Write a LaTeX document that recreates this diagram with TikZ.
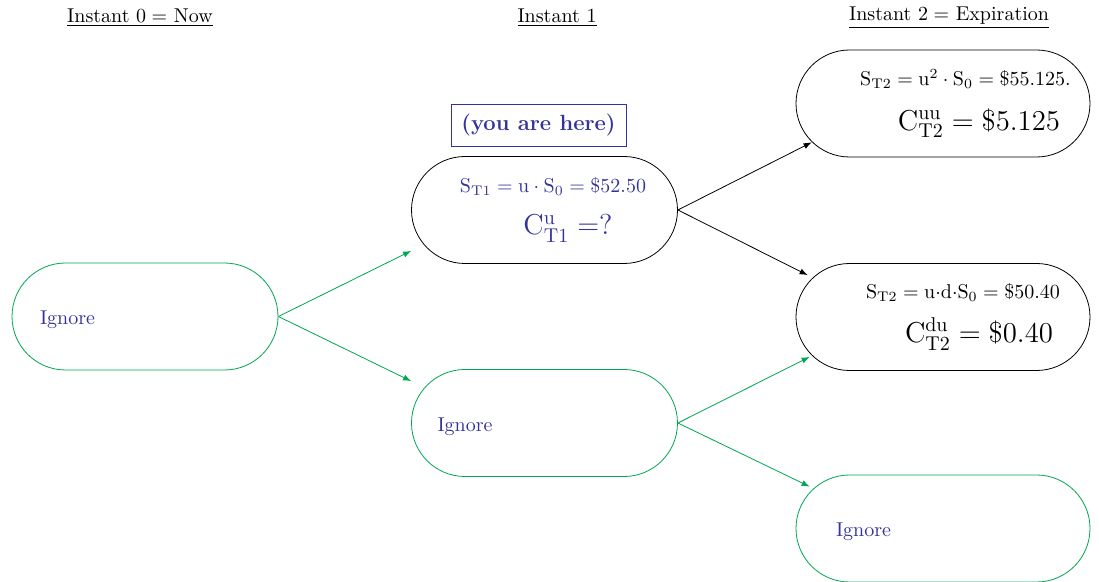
\documentclass[tikz,border=0pt]{standalone}
\usepackage{amsmath}
\usepackage{xcolor}
\usepackage{tikz}
\usetikzlibrary{shapes.geometric, arrows}

\definecolor{nodegreen}{RGB}{0,166,81}
\definecolor{textblue}{RGB}{51,51,153}

\tikzset{
    stadium/.style={draw, rectangle, rounded corners=26.75pt, minimum height=53.5pt, minimum width=133pt, inner sep=0pt},
    widestadium/.style={stadium, minimum width=147pt},
    greenbox/.style={draw=nodegreen, text=textblue, align=left},
    header/.style={inner sep=1pt},
    uparrow/.style={-latex, black},
    downarrow/.style={-latex, nodegreen}
}
\newcommand{\ignoretext}{\raisebox{-4.25pt}[0pt][0pt]{Ignore}}

\begin{document}
\begin{tikzpicture}[x=0.5pt, y=-0.5pt]
        \useasboundingbox (0,0) rectangle (1099,582);

        \node[header] (h0) at (140,18) {\underline{Instant $0=$ Now}};
        \node[header] (h1) at (557,18) {\underline{Instant 1}};
        \node[header] (h2) at (949,18) {\underline{Instant $2=$ Expiration}};

        \node[stadium, greenbox, text width=105pt] (A) at (145,316.5) {\ignoretext};

        \node[stadium, text=textblue, align=center] (B) at (544.5,210)
            {\hspace*{8.5pt}$\mathrm{S_{T1}}=\mathrm{u}\cdot\mathrm{S_0}=\$52.50$\\[9pt]
             \hspace*{23.5pt}{\Large$\mathrm{C^{u}_{T1}}=$?}};
        \node[stadium, greenbox, text width=107pt] (C) at (544.5,423) {\ignoretext};

        \node[draw=textblue, text=textblue, minimum width=87.5pt, minimum height=21pt, inner sep=1pt] (here) at (538.5,125)
            {\fontsize{11}{13}\selectfont\bfseries (you are here)};

        \node[widestadium, align=center] (D) at (943,103.5)
            {\hspace*{22.5pt}$\mathrm{S_{T2}}=\mathrm{u^2}\cdot\mathrm{S_0}=\$55.125.$\\[9pt]
             \hspace*{36pt}{\Large$\mathrm{C^{uu}_{T2}}=\$5.125$}};
        \node[widestadium, align=center] (E) at (943,317)
            {\hspace*{20pt}$\mathrm{S_{T2}}=\mathrm{u{\cdot}d{\cdot}S_0}=\$50.40$\\[7pt]
             \hspace*{36pt}{\Large$\mathrm{C^{du}_{T2}}=\$0.40$}};
        \node[widestadium, greenbox, text width=107pt] (F) at (943,528.5) {\ignoretext};

        \draw[downarrow] (A.east) -- ([yshift=6.5pt]B.south west);
        \draw[downarrow] (A.east) -- ([yshift=-6pt]C.north west);
        \draw[uparrow] (B.east) -- ([xshift=8pt,yshift=7.5pt]D.south west);
        \draw[uparrow] (B.east) -- ([xshift=6pt,yshift=-6pt]E.north west);
        \draw[downarrow] (C.east) -- ([xshift=7pt,yshift=7pt]E.south west);
        \draw[downarrow] (C.east) -- ([xshift=7pt,yshift=-6pt]F.north west);
    \end{tikzpicture}
\end{document}
